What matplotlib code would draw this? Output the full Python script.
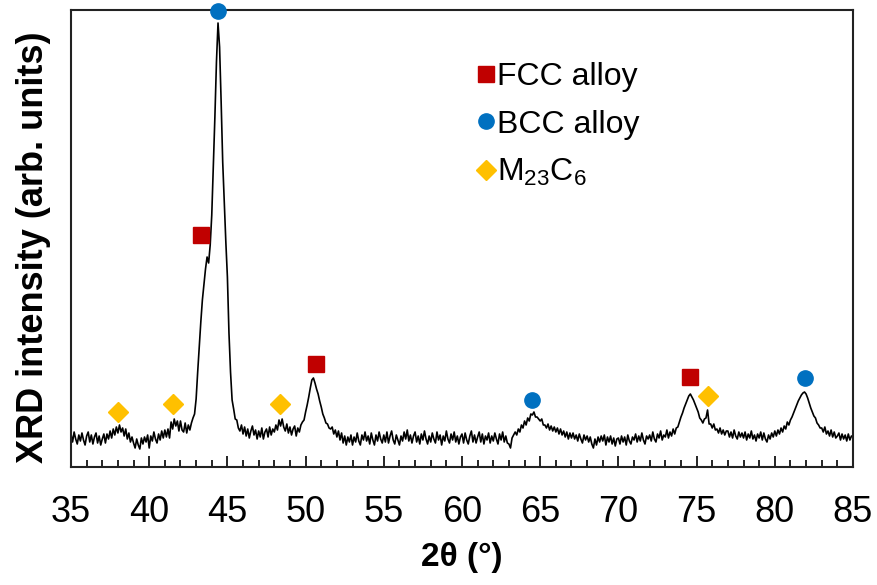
import numpy as np
import matplotlib
matplotlib.use("Agg")
import matplotlib.pyplot as plt
from matplotlib.ticker import MultipleLocator, NullLocator

plt.rcParams['font.family'] = ['Liberation Sans', 'DejaVu Sans']

# ---- data, one row per degree, 0.1 deg steps ----
two_theta_start = 35.0
two_theta_end = 85.0
intensity = [
    33, 25, 35, 28, 23, 32, 26, 34, 27, 22,        # 35
    31, 35, 25, 32, 23, 30, 34, 24, 31, 22,        # 36
    28, 33, 24, 33, 28, 36, 29, 38, 32, 40,        # 37
    34, 42, 35, 39, 31, 38, 28, 34, 25, 30,        # 38
    24, 19, 28, 22, 18, 29, 23, 30, 25, 32,        # 39
    19, 31, 26, 35, 28, 24, 33, 27, 36, 29,        # 40
    37, 30, 38, 29, 45, 38, 48, 41, 46, 36,        # 41
    46, 37, 35, 44, 34, 42, 37, 44, 49, 53,        # 42
    68, 95, 120, 145, 167, 183, 198, 210, 204, 222,  # 43
    252, 300, 350, 405, 444, 420, 365, 305, 265, 225,  # 44
    190, 134, 95, 67, 58, 48, 47, 39, 36, 42,      # 45
    33, 40, 31, 38, 29, 36, 41, 32, 37, 28,        # 46
    36, 30, 39, 28, 35, 38, 30, 40, 32, 38,        # 47
    35, 42, 37, 47, 41, 48, 40, 36, 43, 34,        # 48
    40, 32, 38, 41, 31, 39, 35, 42, 45, 47,        # 49
    55, 62, 70, 79, 87, 89, 84, 78, 73, 66,        # 50
    60, 53, 49, 44, 43, 39, 38, 40, 33, 37,        # 51
    30, 36, 27, 34, 24, 31, 22, 30, 25, 32,        # 52
    22, 30, 25, 34, 26, 22, 32, 27, 35, 26,        # 53
    31, 23, 34, 27, 22, 32, 26, 35, 28, 24,        # 54
    32, 25, 35, 24, 31, 36, 27, 23, 32, 27,        # 55
    22, 31, 26, 35, 28, 37, 26, 32, 24, 31,        # 56
    35, 25, 31, 23, 33, 27, 36, 28, 23, 31,        # 57
    25, 34, 28, 24, 35, 27, 32, 22, 31, 26,        # 58
    36, 28, 24, 33, 27, 35, 25, 31, 23, 30,        # 59
    33, 24, 34, 27, 23, 31, 36, 25, 32, 24,        # 60
    30, 35, 25, 33, 23, 31, 27, 34, 24, 31,        # 61
    26, 34, 28, 23, 33, 27, 35, 25, 31, 24,        # 62
    23, 19, 29, 32, 35, 32, 38, 35, 42, 39,        # 63
    46, 42, 49, 46, 53, 52, 55, 50, 50, 48,        # 64
    46, 48, 42, 42, 39, 43, 37, 41, 36, 40,        # 65
    35, 39, 33, 38, 32, 36, 30, 35, 28, 34,        # 66
    29, 34, 28, 32, 26, 33, 28, 24, 32, 27,        # 67
    31, 25, 30, 23, 19, 28, 22, 30, 25, 31,        # 68
    26, 32, 22, 30, 25, 31, 23, 29, 21, 28,        # 69
    29, 23, 31, 25, 30, 22, 32, 26, 23, 30,        # 70
    27, 33, 25, 31, 26, 34, 27, 23, 31, 28,        # 71
    32, 26, 35, 28, 25, 33, 29, 36, 27, 32,        # 72
    30, 37, 29, 35, 31, 38, 33, 39, 40, 45,        # 73
    50, 54, 59, 63, 67, 71, 73, 70, 67, 63,        # 74
    59, 55, 49, 47, 44, 48, 49, 57, 43, 43,        # 75
    39, 43, 37, 38, 34, 39, 33, 37, 32, 36,        # 76
    36, 30, 35, 29, 37, 31, 28, 35, 30, 34,        # 77
    29, 35, 27, 33, 29, 36, 28, 32, 26, 33,        # 78
    29, 35, 27, 34, 28, 25, 32, 28, 34, 30,        # 79
    36, 31, 37, 33, 39, 35, 41, 38, 45, 42,        # 80
    47, 50, 54, 58, 62, 66, 69, 72, 74, 75,        # 81
    73, 69, 64, 59, 55, 51, 49, 44, 42, 39,        # 82
    39, 35, 40, 33, 36, 31, 37, 30, 35, 29,        # 83
    31, 34, 27, 33, 28, 32, 26, 33, 27, 31,        # 84
    30,                                            # 85
]
two_theta = np.linspace(two_theta_start, two_theta_end, len(intensity))

fcc_x = [43.3, 50.65, 74.6]
fcc_y = [232, 103, 90]
bcc_x = [44.4, 64.5, 81.9]
bcc_y = [456, 67, 89]
m23c6_x = [38.0, 41.5, 48.35, 75.7]
m23c6_y = [55, 63, 63, 71]

labels = ["FCC alloy", "BCC alloy", r"M$\mathregular{_{23}}$C$\mathregular{_{6}}$"]
x_ticks = [35, 40, 45, 50, 55, 60, 65, 70, 75, 80, 85]

RED = "#C00000"
BLUE = "#0070C0"
YELLOW = "#FFC000"

# ---- figure ----
fig = plt.figure(figsize=(8.77, 5.85), dpi=100)
ax = fig.add_axes([71 / 877, 1 - 467 / 585, (853 - 71) / 877, (467 - 10) / 585])

ax.plot(two_theta, intensity, color="black", lw=1.2, zorder=2)

h1, = ax.plot(fcc_x, fcc_y, ls="none", marker="s", ms=11, color=RED, mec=RED,
              clip_on=False, zorder=4, label=labels[0])
h2, = ax.plot(bcc_x, bcc_y, ls="none", marker="o", ms=11, color=BLUE, mec=BLUE,
              clip_on=False, zorder=4, label=labels[1])
h3, = ax.plot(m23c6_x, m23c6_y, ls="none", marker="D", ms=10, color=YELLOW, mec=YELLOW,
              clip_on=False, zorder=4, label=labels[2])

ax.set_xlim(35, 85)
ax.set_ylim(0, 457)
ax.set_xticks(x_ticks)
ax.xaxis.set_minor_locator(MultipleLocator(1))
ax.yaxis.set_major_locator(NullLocator())
ax.tick_params(axis="x", which="major", direction="in", length=8, width=1.2,
               labelsize=26, pad=20, top=False)
ax.tick_params(axis="x", which="minor", direction="in", length=5, width=1.2, top=False)

for s in ax.spines.values():
    s.set_linewidth(1.5)
    s.set_color("#222222")

ax.set_xlabel("2θ (°)", fontsize=24, fontweight="bold", labelpad=9)
ax.set_ylabel("XRD intensity (arb. units)", fontsize=26, fontweight="bold")
ax.yaxis.set_label_coords(-0.026, 0.481)

leg = ax.legend(handles=[h1, h2, h3], loc="upper left",
                bbox_to_anchor=(476 / 877, 1 - 62 / 585), bbox_transform=fig.transFigure,
                frameon=False, fontsize=23, handlelength=0.6, handletextpad=0.05,
                labelspacing=0.55, borderpad=0, borderaxespad=0, markerscale=1.0)

fig.savefig("out.png", dpi=100)
